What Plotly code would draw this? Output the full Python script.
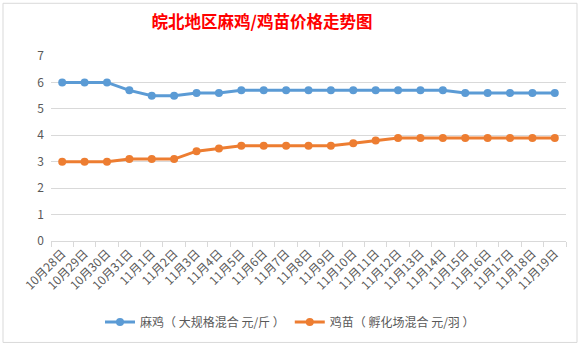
import plotly.graph_objects as go

dates = ["10月28日", "10月29日", "10月30日", "10月31日", "11月1日", "11月2日", "11月3日",
         "11月4日", "11月5日", "11月6日", "11月7日", "11月8日", "11月9日", "11月10日",
         "11月11日", "11月12日", "11月13日", "11月14日", "11月15日", "11月16日",
         "11月17日", "11月18日", "11月19日"]
maji = [6, 6, 6, 5.7, 5.5, 5.5, 5.6, 5.6, 5.7, 5.7, 5.7, 5.7, 5.7, 5.7, 5.7, 5.7,
        5.7, 5.7, 5.6, 5.6, 5.6, 5.6, 5.6]
jimiao = [3, 3, 3, 3.1, 3.1, 3.1, 3.4, 3.5, 3.6, 3.6, 3.6, 3.6, 3.6, 3.7, 3.8, 3.9,
          3.9, 3.9, 3.9, 3.9, 3.9, 3.9, 3.9]
name1 = "麻鸡（ 大规格混合 元/斤 ）"
name2 = "鸡苗（ 孵化场混合 元/羽 ）"
title = "<b>皖北地区麻鸡/鸡苗价格走势图</b>"

FONT = "Noto Sans CJK SC, Noto Sans, sans-serif"

fig = go.Figure()
fig.add_trace(go.Scatter(x=dates, y=maji, name=name1, mode="lines+markers",
                         line=dict(color="#5B9BD5", width=3),
                         marker=dict(color="#5B9BD5", size=8)))
fig.add_trace(go.Scatter(x=dates, y=jimiao, name=name2, mode="lines+markers",
                         line=dict(color="#ED7D31", width=3),
                         marker=dict(color="#ED7D31", size=8)))

L, T, W, H = 51, 56, 515, 186

def px(xp):
    return (xp - L) / W

def py(yp):
    return (T + H - yp) / H

fig.update_layout(
    width=583, height=347,
    margin=dict(l=L, r=583 - L - W, t=T, b=347 - T - H),
    paper_bgcolor="white", plot_bgcolor="white",
    font=dict(family=FONT, color="#595959", size=11),
    title=dict(text=title, xref="container", x=(262 / 583), xanchor="center",
               yref="container", y=1 - 22 / 347, yanchor="middle",
               font=dict(family=FONT, size=16.5, color="#FF0000")),
    showlegend=True,
    legend=dict(orientation="h", x=px(290), xanchor="center", y=py(322), yanchor="middle",
                font=dict(size=12, color="#595959", family=FONT),
                itemwidth=30, bgcolor="rgba(0,0,0,0)"),
    xaxis=dict(type="category", range=[-0.5, 22.5], tickangle=-45,
               showgrid=False, showline=True, linecolor="#D9D9D9", linewidth=1,
               ticks="outside", tickson="boundaries", ticklen=5, tickcolor="#D9D9D9",
               tickfont=dict(size=12, color="#595959", family=FONT), fixedrange=True),
    yaxis=dict(range=[0, 7], dtick=1, showgrid=True, gridcolor="#D9D9D9", gridwidth=1,
               zeroline=False, showline=False, ticks="",
               tickfont=dict(size=12, color="#595959", family=FONT), ticklabelstandoff=6),
    shapes=[dict(type="rect", xref="paper", yref="paper",
                 x0=px(3), x1=px(577), y0=py(344), y1=py(3),
                 line=dict(color="#D9D9D9", width=1), layer="below")],
)

fig.write_html("out.html")
